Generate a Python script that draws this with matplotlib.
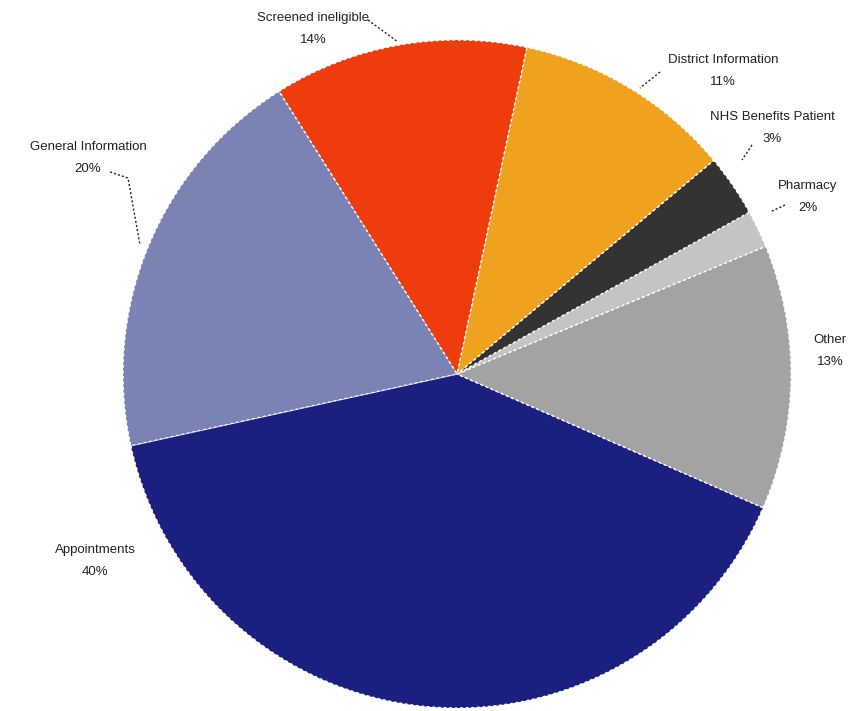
import matplotlib.pyplot as plt

categories = ["Appointments", "Other", "Pharmacy", "NHS Benefits Patient",
              "District Information", "Screened ineligible", "General Information"]
values = [40.0, 12.8, 1.8, 3.0, 10.6, 12.3, 19.5]
pct_labels = ["40%", "13%", "2%", "3%", "11%", "14%", "20%"]
colors = ["#1b1f80", "#a3a3a3", "#c4c4c4", "#333333", "#f0a11e", "#ee3c0c", "#7b82b4"]

W, H = 851, 711
fig = plt.figure(figsize=(W / 100, H / 100), dpi=100)
ax = fig.add_axes([0, 0, 1, 1])

cx, cy, r = 457, H - 374, 334
wedges, _ = ax.pie(values, colors=colors, startangle=192.4, counterclock=True,
                   center=(cx, cy), radius=r,
                   wedgeprops=dict(edgecolor="white", linewidth=1.0, linestyle=(0, (2, 2))))
ax.set_xlim(0, W)
ax.set_ylim(0, H)
ax.set_aspect("equal")
ax.axis("off")

# label positions in pixel coords (x, y from top)
label_pos = {
    "Appointments": (95, 550),
    "Other": (830, 340),
    "Pharmacy": (808, 186),
    "NHS Benefits Patient": (772, 117),
    "District Information": (723, 60),
    "Screened ineligible": (313, 18),
    "General Information": (88, 147),
}
leaders = {
    "Screened ineligible": [(368, 20), (398, 42)],
    "District Information": [(660, 72), (640, 88)],
    "NHS Benefits Patient": [(752, 145), (742, 160)],
    "Pharmacy": [(785, 205), (770, 212)],
    "General Information": [(110, 172), (128, 178), (140, 245)],
}

for cat, pct in zip(categories, pct_labels):
    x, y = label_pos[cat]
    ax.text(x, H - y, cat, ha="center", va="center", fontsize=9.5,
            family="Liberation Sans", color="#222222")
    ax.text(x, H - y - 22, pct, ha="center", va="center", fontsize=9.5,
            family="Liberation Sans", color="#222222")

for cat, pts in leaders.items():
    xs = [p[0] for p in pts]
    ys = [H - p[1] for p in pts]
    ax.plot(xs, ys, color="#222222", linewidth=1.0, linestyle=(0, (1.5, 1.5)))

fig.savefig("out.png", dpi=100, facecolor="white")
